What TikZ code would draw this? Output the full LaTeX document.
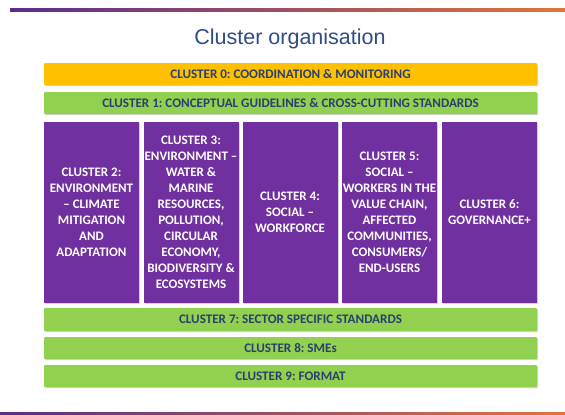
\documentclass[tikz,border=0pt]{standalone}
\usepackage{fontspec}
\setmainfont{Carlito}
\newfontfamily\titlefont{Liberation Sans}
\usetikzlibrary{shadows}
\frenchspacing

\definecolor{clorange}{HTML}{FFC000}
\definecolor{clgreen}{HTML}{92D050}
\definecolor{clpurple}{HTML}{7030A0}
\definecolor{cltext}{HTML}{2A4070}
\definecolor{cltitle}{HTML}{2E4D85}
\definecolor{linepurple}{HTML}{5A2D8C}
\definecolor{lineorange}{HTML}{E2743A}

\tikzset{
	bar/.style={minimum width=493pt, minimum height=22pt, inner sep=0pt, text=cltext,
		rounded corners=1pt, font=\fontsize{13.1}{15}\selectfont\bfseries,
		drop shadow={opacity=0.35, shadow xshift=1pt, shadow yshift=-1.2pt}},
	column/.style={fill=clpurple, minimum width=95pt, minimum height=181pt, inner sep=0pt,
		text=white, align=center, font=\fontsize{13}{16}\selectfont\bfseries,
		drop shadow={opacity=0.35, shadow xshift=1pt, shadow yshift=-1.2pt}}
}

\begin{document}
\begin{tikzpicture}[x=1pt,y=-1pt]
		\useasboundingbox (0,0) rectangle (565,415);
		
		%coloured lines top and bottom
		\shade[left color=linepurple, right color=lineorange] (10,8.5) rectangle (565,11.5);
		\shade[left color=linepurple, right color=lineorange] (0,412) rectangle (565,415);
		
		\node[text=cltitle, font=\titlefont\fontsize{21.5}{25}\selectfont] (title) at (290,39) {Cluster organisation};
		
		%horizontal bars
		\node[bar, fill=clorange] (c0) at (290.5,74) {CLUSTER 0: COORDINATION \& MONITORING};
		\node[bar, fill=clgreen] (c1) at (290.5,103) {CLUSTER 1: CONCEPTUAL GUIDELINES \& CROSS-CUTTING STANDARDS};
		
		%purple columns
		\node[column] (c2) at (91.5,212) {CLUSTER 2:\\ENVIRONMENT\\-- CLIMATE\\MITIGATION\\AND\\ADAPTATION};
		\node[column] (c3) at (191,212) {CLUSTER 3:\\ENVIRONMENT --\\WATER \&\\MARINE\\RESOURCES,\\POLLUTION,\\CIRCULAR\\ECONOMY,\\BIODIVERSITY \&\\ECOSYSTEMS};
		\node[column] (c4) at (290,212) {CLUSTER 4:\\SOCIAL --\\WORKFORCE};
		\node[column] (c5) at (389.5,212) {CLUSTER 5:\\SOCIAL --\\WORKERS IN THE\\VALUE CHAIN,\\AFFECTED\\COMMUNITIES,\\CONSUMERS/\\END-USERS};
		\node[column] (c6) at (489.5,212) {CLUSTER 6:\\GOVERNANCE+};
		
		%bottom bars
		\node[bar, fill=clgreen, minimum height=23pt] (c7) at (290.5,319.5) {CLUSTER 7: SECTOR SPECIFIC STANDARDS};
		\node[bar, fill=clgreen] (c8) at (290.5,348) {CLUSTER 8: SMEs};
		\node[bar, fill=clgreen] (c9) at (290.5,376) {CLUSTER 9: FORMAT};
		
	\end{tikzpicture}
\end{document}
